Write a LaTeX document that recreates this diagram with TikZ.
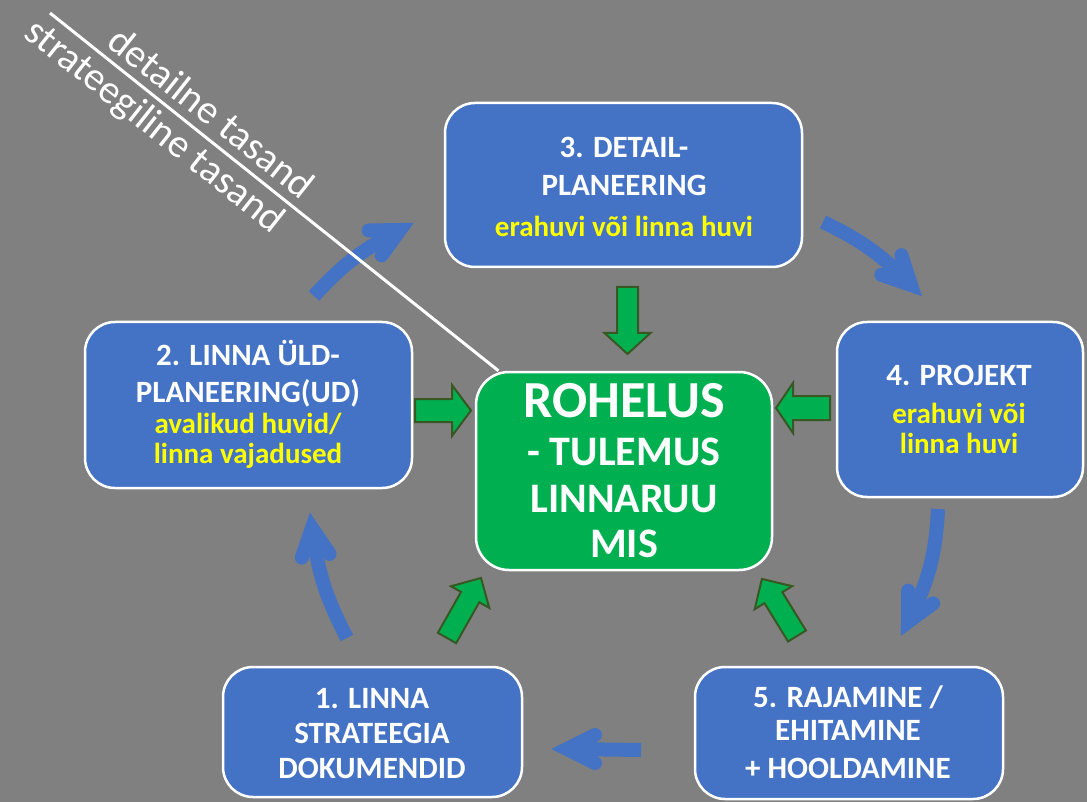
\documentclass[tikz,border=0pt]{standalone}
\usepackage{fontspec}
\setmainfont{Carlito}
\definecolor{bg}{RGB}{128,128,128}
\definecolor{boxblue}{RGB}{68,114,196}
\definecolor{cgreen}{RGB}{0,176,80}
\definecolor{gdark}{RGB}{56,87,35}
\definecolor{ylw}{RGB}{255,255,0}
\begin{document}
\begin{tikzpicture}[x=1pt,y=-1pt,
  box/.style={draw=white, line width=2.5pt, rounded corners=30pt, fill=boxblue, inner sep=0pt},
  cbox/.style={draw=white, line width=2.5pt, rounded corners=33pt, fill=cgreen, inner sep=0pt},
  wtxt/.style={text=white, font=\fontsize{31}{37}\selectfont\bfseries, inner sep=0pt, anchor=base},
  ytxt/.style={text=ylw, font=\fontsize{29}{35}\selectfont\bfseries, inner sep=0pt, anchor=base},
  bigtxt/.style={text=white, font=\fontsize{52}{60}\selectfont\bfseries, inner sep=0pt, anchor=base},
  midtxt/.style={text=white, font=\fontsize{42}{50}\selectfont\bfseries, inner sep=0pt, anchor=base},
  diagtxt/.style={text=white, font=\fontsize{40}{46}\selectfont, inner sep=0pt, rotate=-38.4},
  garrow/.style={fill=cgreen, draw=gdark, line width=2pt, line join=miter},
  bluearr/.style={draw=boxblue, line width=14pt, line cap=butt},
  bluehead/.style={draw=boxblue, line width=14pt, line cap=round, line join=miter}
]
\useasboundingbox (0,0) rectangle (1087,802);
\fill[bg] (0,0) rectangle (1087,802);

% boxes
\node[box, minimum width=357, minimum height=164] (b3) at (623.5,185) {};
\node[box, minimum width=327, minimum height=166] (b2) at (248.5,405) {};
\node[box, minimum width=246, minimum height=175] (b4) at (960,409.5) {};
\node[box, minimum width=299, minimum height=130] (b1) at (372.5,732) {};
\node[box, minimum width=308, minimum height=132] (b5) at (849,733) {};
\node[cbox, minimum width=296, minimum height=198] (c) at (624,471) {};

% texts
\node[wtxt] (t3a) at (624,158) {3. DETAIL-};
\node[wtxt] (t3b) at (624,196) {PLANEERING};
\node[ytxt] (t3c) at (624,237) {erahuvi või linna huvi};

\node[wtxt] (t2a) at (248,365) {2. LINNA ÜLD-};
\node[wtxt] (t2b) at (248,402) {PLANEERING(UD)};
\node[ytxt] (t2c) at (248,433) {avalikud huvid/};
\node[ytxt] (t2d) at (248,463) {linna vajadused};

\node[wtxt] (t4a) at (959,385) {4. PROJEKT};
\node[ytxt] (t4b) at (959,423) {erahuvi või};
\node[ytxt] (t4c) at (959,453) {linna huvi};

\node[wtxt] (t1a) at (372,708) {1. LINNA};
\node[wtxt] (t1b) at (372,743) {STRATEEGIA};
\node[wtxt] (t1c) at (372,778) {DOKUMENDID};

\node[wtxt] (t5a) at (848,707) {5. RAJAMINE /};
\node[wtxt] (t5b) at (848,740) {EHITAMINE};
\node[wtxt] (t5c) at (848,778) {+ HOOLDAMINE};

\node[bigtxt] (tca) at (624,417) {ROHELUS};
\node[midtxt] (tcb) at (624,465) {- TULEMUS};
\node[midtxt] (tcc) at (624,512) {LINNARUU};
\node[midtxt] (tcd) at (624,557) {MIS};

% green block arrows
\draw[garrow, shift={(627.5,287)}, rotate=-90]
  (0,-10.5) -- (46,-10.5) -- (46,-23) -- (67,0) -- (46,23) -- (46,10.5) -- (0,10.5) -- cycle;
\draw[garrow, shift={(415,410.5)}, rotate=0]
  (0,-11.5) -- (37,-11.5) -- (37,-25.5) -- (56,0) -- (37,25.5) -- (37,11.5) -- (0,11.5) -- cycle;
\draw[garrow, shift={(830,408)}, rotate=180]
  (0,-12) -- (37,-12) -- (37,-25) -- (54,0) -- (37,25) -- (37,12) -- (0,12) -- cycle;
\draw[garrow, shift={(447,638)}, rotate=60.5]
  (0,-10.5) -- (47,-10.5) -- (47,-22) -- (69,0) -- (47,22) -- (47,10.5) -- (0,10.5) -- cycle;
\draw[garrow, shift={(797,636)}, rotate=121.6]
  (0,-10.5) -- (45,-10.5) -- (45,-22) -- (67,0) -- (45,22) -- (45,10.5) -- (0,10.5) -- cycle;

% blue cycle arrows
\coordinate (a1s) at (347,638); \coordinate (a1t) at (312,528);
\coordinate (a2s) at (314,296); \coordinate (a2t) at (400,230);
\coordinate (a3s) at (823,222); \coordinate (a3t) at (911,285);
\coordinate (a4s) at (938,509); \coordinate (a4t) at (908,622);
\coordinate (a5s) at (641,750); \coordinate (a5t) at (567,749);
\draw[bluearr] (a1s) to[bend left=10] (a1t);
\draw[bluearr] (a2s) to[bend left=10] (a2t);
\draw[bluearr] (a3s) to[bend left=10] (a3t);
\draw[bluearr] (a4s) to[bend left=12] (a4t);
\draw[bluearr] (a5s) -- (a5t);
\draw[bluehead, shift={(a1t)}, rotate=97.6] (-28,14) -- (0,0) -- (-28,-14);
\draw[bluehead, shift={(a2t)}, rotate=27.5] (-28,14) -- (0,0) -- (-28,-14);
\draw[bluehead, shift={(a3t)}, rotate=-45.6] (-28,14) -- (0,0) -- (-28,-14);
\draw[bluehead, shift={(a4t)}, rotate=-116.9] (-28,14) -- (0,0) -- (-28,-14);
\draw[bluehead, shift={(a5t)}, rotate=180] (-28,14) -- (0,0) -- (-28,-14);

% diagonal divider
\coordinate (dl) at (50,13);
\draw[white, line width=3pt] (dl) -- (c);
\node[diagtxt] (dt1) at (212,112) {detailne tasand};
\node[diagtxt] (dt2) at (154,127) {strateegiline tasand};
\end{tikzpicture}
\end{document}
